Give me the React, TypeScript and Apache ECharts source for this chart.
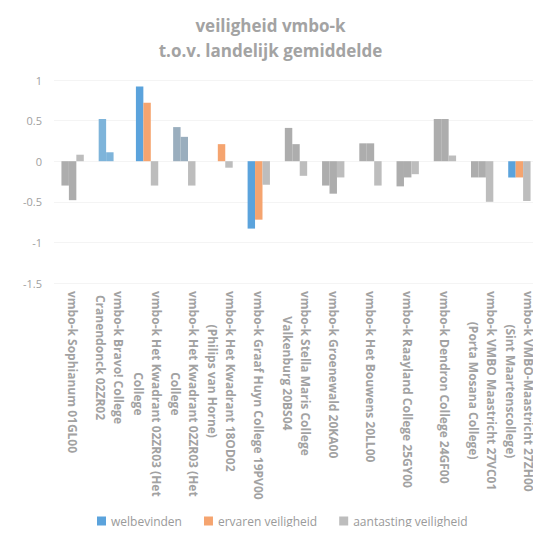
import React, { useEffect, useRef } from "react";
import * as echarts from "echarts";

const categories = [
  "vmbo-k Sophianum 01GL00",
  "vmbo-k Bravo! College\nCranendonck 02ZR02",
  "vmbo-k Het Kwadrant 02ZR03 (Het\nCollege",
  "vmbo-k Het Kwadrant 02ZR03 (Het\nCollege",
  "vmbo-k Het Kwadrant 18OD02\n(Philips van Horne)",
  "vmbo-k Graaf Huyn College 19PV00",
  "vmbo-k Stella Maris College\nValkenburg 20BS04",
  "vmbo-k Groenewald 20KA00",
  "vmbo-k Het Bouwens 20LL00",
  "vmbo-k Raayland College 25GY00",
  "vmbo-k Dendron College 24GF00",
  "vmbo-k VMBO Maastricht 27VC01\n(Porta Mosana College)",
  "vmbo-k VMBO-Maastricht 27ZH00\n(Sint Maartenscollege)",
];

const welbevinden = [-0.3, 0.52, 0.92, 0.42, 0, -0.83, 0.41, -0.3, 0.22, -0.31, 0.52, -0.2, -0.2];
const ervarenVeiligheid = [-0.48, 0.11, 0.72, 0.3, 0.21, -0.72, 0.21, -0.4, 0.22, -0.2, 0.52, -0.2, -0.2];
const aantastingVeiligheid = [0.08, 0, -0.3, -0.3, -0.08, -0.29, -0.18, -0.2, -0.3, -0.16, 0.07, -0.5, -0.49];

const seriesNames = ["welbevinden", "ervaren veiligheid", "aantasting veiligheid"];
const yTicks = { min: -1.5, max: 1, interval: 0.5 };

// colours as they appear in the picture (many bars look washed-out grey)
const BLUE = "#5BA3DC";
const ORANGE = "#F5A46F";
const GREY = "#BDBDBD";
const WASH = "#ADADAD";
const welbevindenColors = [WASH, "#7EB4DA", BLUE, "#9AAEBE", BLUE, BLUE, WASH, WASH, WASH, WASH, WASH, WASH, BLUE];
const ervarenColors = [WASH, "#7EB4DA", ORANGE, "#9AAEBE", ORANGE, ORANGE, WASH, WASH, WASH, WASH, WASH, WASH, ORANGE];

const FONT = "'Open Sans', sans-serif";
const LABEL_SIZE = 12;
const LABEL_WEIGHT = "bold";

export default function App() {
  const ref = useRef<HTMLDivElement>(null);
  useEffect(() => {
    if (!ref.current) return;
    const chart = echarts.init(ref.current, undefined, { renderer: "svg" });

    // centre the wrapped lines of each category label (like the original)
    const ctx = document.createElement("canvas").getContext("2d")!;
    ctx.font = `${LABEL_WEIGHT} ${LABEL_SIZE}px ${FONT}`;
    const rich: Record<string, any> = {
      c: { fontSize: LABEL_SIZE, fontWeight: LABEL_WEIGHT, lineHeight: 18, color: "#A2A2A2", fontFamily: FONT },
    };
    const formatted: Record<string, string> = {};
    categories.forEach((cat, i) => {
      const lines = cat.split("\n");
      const widths = lines.map((l) => ctx.measureText(l).width);
      const maxW = Math.max(...widths);
      formatted[cat] = lines
        .map((l, j) => {
          const pad = (maxW - widths[j]) / 2;
          if (pad > 0.5) {
            const key = `p${i}x${j}`;
            rich[key] = { width: pad, fontSize: LABEL_SIZE, lineHeight: 18 };
            return `{${key}|\u00A0}{c|${l}}`;
          }
          return `{c|${l}}`;
        })
        .join("\n");
    });

    chart.setOption({
      animation: false,
      textStyle: { fontFamily: FONT },
      title: {
        text: "veiligheid vmbo-k\nt.o.v. landelijk gemiddelde",
        left: "center",
        top: 13,
        padding: [0, 0, 0, 6],
        textStyle: {
          fontFamily: FONT,
          fontSize: 17,
          fontWeight: "bold",
          color: "#A3A3A3",
          lineHeight: 25,
        },
      },
      color: [BLUE, ORANGE, GREY],
      legend: {
        left: 92,
        top: 510,
        icon: "rect",
        itemWidth: 9,
        itemHeight: 9,
        itemGap: 22,
        textStyle: { fontFamily: FONT, fontSize: 12, color: "#9A9A9A" },
        data: seriesNames,
      },
      grid: { left: 54, right: 3, top: 80, bottom: 252, containLabel: false },
      xAxis: {
        type: "category",
        data: categories,
        axisLine: { show: false, onZero: false },
        axisTick: { show: false },
        splitLine: { show: false },
        axisLabel: {
          interval: 0,
          rotate: -90,
          margin: 8,
          color: "#A2A2A2",
          fontSize: LABEL_SIZE,
          fontWeight: LABEL_WEIGHT,
          formatter: (v: string) => formatted[v] ?? v,
          rich,
        },
      },
      yAxis: {
        type: "value",
        min: yTicks.min,
        max: yTicks.max,
        interval: yTicks.interval,
        axisLine: { show: false },
        axisTick: { show: false },
        splitLine: { lineStyle: { color: "#F4F4F4" } },
        axisLabel: { color: "#A0A0A0", fontSize: 11, margin: 12 },
      },
      series: [
        {
          name: seriesNames[0],
          type: "bar",
          barGap: "0%",
          barCategoryGap: "40%",
          data: welbevinden.map((v, i) => ({ value: v, itemStyle: { color: welbevindenColors[i] } })),
        },
        {
          name: seriesNames[1],
          type: "bar",
          barGap: "0%",
          barCategoryGap: "40%",
          data: ervarenVeiligheid.map((v, i) => ({ value: v, itemStyle: { color: ervarenColors[i] } })),
        },
        {
          name: seriesNames[2],
          type: "bar",
          barGap: "0%",
          barCategoryGap: "40%",
          itemStyle: { color: GREY },
          data: aantastingVeiligheid,
        },
      ],
    });
    return () => chart.dispose();
  }, []);
  return <div ref={ref} style={{ width: 541, height: 535, margin: -8 }} />;
}
